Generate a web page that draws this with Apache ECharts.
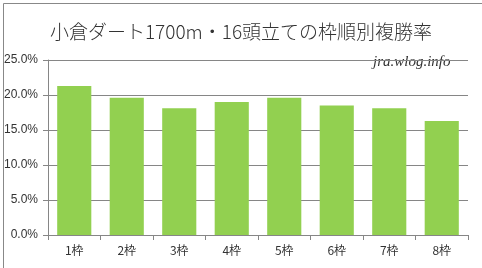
<!DOCTYPE html>
<html><head><meta charset="utf-8">
<script src="https://cdn.jsdelivr.net/npm/echarts@6/dist/echarts.min.js"></script>
<style>html,body{margin:0;padding:0;background:#fff}#c{width:482px;height:268px}</style>
</head><body><div id="c"></div>
<script>
const categories = ['1枠','2枠','3枠','4枠','5枠','6枠','7枠','8枠'];
const placeRate = [21.3, 19.6, 18.1, 19.0, 19.6, 18.5, 18.1, 16.3];
const yTicks = [0, 5, 10, 15, 20, 25];
const titleText = '小倉ダート1700m・16頭立ての枠順別複勝率';
const watermark = 'jra.wlog.info';

const chart = echarts.init(document.getElementById('c'), null, {renderer:'canvas'});
chart.setOption({
  animation: false,
  backgroundColor: '#fff',
  title: {
    text: titleText, left: 'center', top: 17,
    textStyle: {fontFamily: 'Noto Sans CJK JP', fontSize: 19, fontWeight: 300, color: '#333'}
  },
  grid: {left: 48, right: 14, top: 60, bottom: 33},
  xAxis: {
    type: 'category', data: categories,
    axisLine: {lineStyle: {color: '#868686'}},
    axisTick: {show: true, length: 5, alignWithLabel: false, lineStyle: {color: '#868686'}},
    axisLabel: {fontFamily: 'Noto Sans CJK JP', fontSize: 12, color: '#333', margin: 9}
  },
  yAxis: {
    type: 'value', min: yTicks[0], max: yTicks[yTicks.length-1], interval: 5,
    axisLine: {show: true, lineStyle: {color: '#868686'}},
    axisTick: {show: true, length: 5, lineStyle: {color: '#868686'}},
    splitLine: {lineStyle: {color: '#868686'}},
    axisLabel: {fontFamily: 'Liberation Sans', fontSize: 12, color: '#333', margin: 10,
      formatter: v => v.toFixed(1) + '%'}
  },
  series: [{
    type: 'bar', data: placeRate, barCategoryGap: '35%',
    itemStyle: {color: '#92D050'}
  }],
  graphic: [
    {type: 'rect', left: 1, top: 1, shape: {width: 479, height: 265}, style: {fill: 'none', stroke: '#888', lineWidth: 1}},
    {type: 'rect', left: 366, top: 54, shape: {width: 92, height: 18}, style: {fill: '#fff'}},
    {type: 'text', left: 373, top: 55, style: {text: watermark, font: 'italic 15px "Liberation Serif"', fill: '#333'}}
  ]
});
</script></body></html>
